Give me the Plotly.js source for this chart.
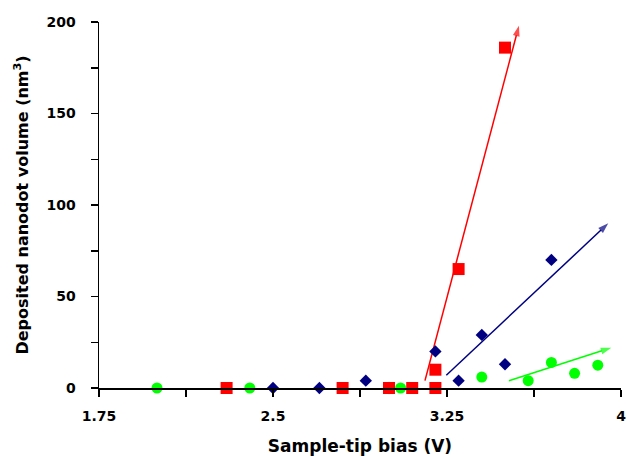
<!DOCTYPE html>
<html>
<head>
<meta charset="utf-8">
<script src="https://cdn.plot.ly/plotly-3.0.1.min.js"></script>
<style>html,body{margin:0;padding:0;background:#fff;}#chart{width:630px;height:456px;}</style>
</head>
<body>
<div id="chart"></div>
<script>
// Data
var blueX = [2.5, 2.7, 2.9, 3.0, 3.2, 3.3, 3.4, 3.5, 3.7];
var blueY = [0, 0, 4, 0, 20, 4, 29, 13, 70];
var redX = [2.3, 2.8, 3.0, 3.1, 3.2, 3.2, 3.3, 3.5];
var redY = [0, 0, 0, 0, 0, 10, 65, 186];
var greenX = [2.0, 2.4, 3.05, 3.4, 3.6, 3.7, 3.8, 3.9];
var greenY = [0, 0, 0, 6, 4, 14, 8, 12.5];

// Trend arrows: [tail, tip]
var redFitX = [3.155, 3.56];
var redFitY = [4, 198];
var blueFitX = [3.247, 3.945];
var blueFitY = [7, 90];
var greenFitX = [3.517, 3.958];
var greenFitY = [4, 22];

var xTickVals = [1.75, 2.125, 2.5, 2.875, 3.25, 3.625, 4];
var xTickText = ['1.75', ' ', '2.5', ' ', '3.25', ' ', '4'];
var yTickVals = [0, 25, 50, 75, 100, 125, 150, 175, 200];
var yTickText = ['0', ' ', '50', ' ', '100', ' ', '150', ' ', '200'];

var RED = '#ff0000', BLUE = '#000080', GREEN = '#00ff00';
var FONT = 'DejaVu Sans, Arial, sans-serif';

function fit(xs, ys, color) {
  return {x: xs, y: ys, mode: 'lines+markers', type: 'scatter', cliponaxis: false,
    line: {color: color, width: 1.5},
    marker: {symbol: ['circle', 'arrow'], size: [0, 11], color: color, angleref: 'previous',
             line: {width: 0}}};
}

var traces = [
  fit(redFitX, redFitY, RED),
  fit(blueFitX, blueFitY, BLUE),
  fit(greenFitX, greenFitY, GREEN),
  {x: blueX, y: blueY, mode: 'markers', type: 'scatter', cliponaxis: false,
   marker: {symbol: 'diamond', size: 9.5, color: BLUE}},
  {x: greenX, y: greenY, mode: 'markers', type: 'scatter', cliponaxis: false,
   marker: {symbol: 'circle', size: 11, color: GREEN}},
  {x: redX, y: redY, mode: 'markers', type: 'scatter', cliponaxis: false,
   marker: {symbol: 'square', size: 12, color: RED}}
];

var layout = {
  width: 630, height: 456,
  margin: {l: 99, r: 9, t: 22, b: 68},
  paper_bgcolor: '#fff', plot_bgcolor: '#fff',
  showlegend: false,
  font: {family: FONT, color: '#000'},
  xaxis: {
    range: [1.75, 4], tickmode: 'array', tickvals: xTickVals, ticktext: xTickText,
    showgrid: false, zeroline: false, showline: true, linecolor: '#000', linewidth: 1.5,
    ticks: 'outside', ticklen: 7, tickwidth: 1.5, tickcolor: '#000',
    tickfont: {family: FONT, size: 14, weight: 'bold', color: '#000'},
    ticklabelstandoff: 8,
    title: {text: 'Sample-tip bias (V)', font: {family: FONT, size: 17, weight: 'bold', color: '#000'}, standoff: 17}
  },
  yaxis: {
    range: [0, 200], tickmode: 'array', tickvals: yTickVals, ticktext: yTickText,
    showgrid: false, zeroline: false, showline: true, linecolor: '#000', linewidth: 1.5,
    ticks: 'outside', ticklen: 7, tickwidth: 1.5, tickcolor: '#000',
    tickfont: {family: FONT, size: 14, weight: 'bold', color: '#000'},
    ticklabelstandoff: 12,
    title: {text: 'Deposited nanodot volume (nm<sup>3</sup>)', font: {family: FONT, size: 16, weight: 'bold', color: '#000'}, standoff: 14}
  }
};

Plotly.newPlot('chart', traces, layout, {displayModeBar: false, staticPlot: true});
</script>
</body>
</html>
